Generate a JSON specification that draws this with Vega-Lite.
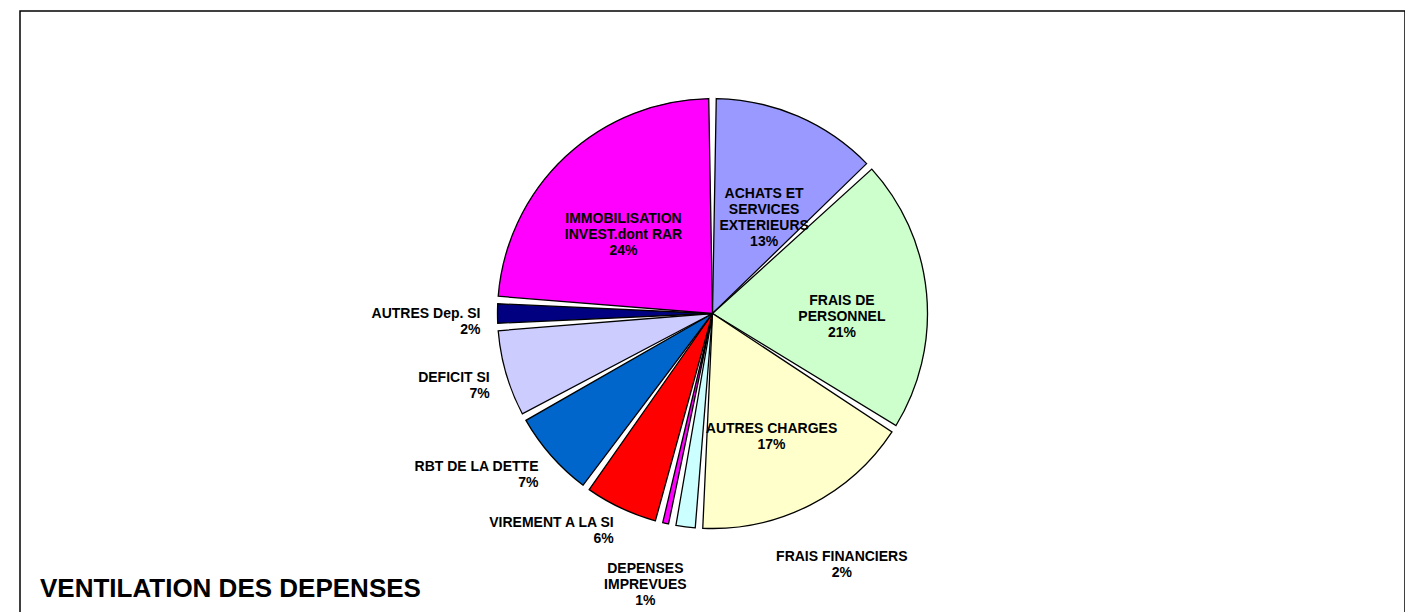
{
  "$schema": "https://vega.github.io/schema/vega-lite/v6.json",
  "width": 1385,
  "height": 605,
  "autosize": "none",
  "padding": {"left": 20, "top": 11, "right": 0, "bottom": 0},
  "background": "white",
  "view": {"stroke": "black", "strokeWidth": 1.5},
  "title": {
    "text": "VENTILATION DES DEPENSES",
    "orient": "bottom",
    "anchor": "start",
    "offset": -40,
    "dx": 20,
    "font": "Liberation Sans",
    "fontSize": 26,
    "fontWeight": "bold",
    "color": "black"
  },
  "data": {
    "values": [
      {"order": 1, "name": "ACHATS ET SERVICES EXTERIEURS", "value": 13, "label": "ACHATS ET\nSERVICES\nEXTERIEURS\n13%", "group": "in"},
      {"order": 2, "name": "FRAIS DE PERSONNEL", "value": 21, "label": "FRAIS DE\nPERSONNEL\n21%", "group": "in"},
      {"order": 3, "name": "AUTRES CHARGES", "value": 17, "label": "AUTRES CHARGES\n17%", "group": "in"},
      {"order": 4, "name": "FRAIS FINANCIERS", "value": 2, "label": "FRAIS FINANCIERS\n2%", "group": "ff"},
      {"order": 5, "name": "DEPENSES IMPREVUES", "value": 1, "label": "DEPENSES\nIMPREVUES\n1%", "group": "di"},
      {"order": 6, "name": "VIREMENT A LA SI", "value": 6, "label": "VIREMENT A LA SI\n6%", "group": "left"},
      {"order": 7, "name": "RBT DE LA DETTE", "value": 7, "label": "RBT DE LA DETTE\n7%", "group": "left"},
      {"order": 8, "name": "DEFICIT SI", "value": 7, "label": "DEFICIT SI\n7%", "group": "left"},
      {"order": 9, "name": "AUTRES Dep. SI", "value": 2, "label": "AUTRES Dep. SI\n2%", "group": "left"},
      {"order": 10, "name": "IMMOBILISATION INVEST.dont RAR", "value": 24, "label": "IMMOBILISATION\nINVEST.dont RAR\n24%", "group": "in"}
    ]
  },
  "encoding": {
    "theta": {"field": "value", "type": "quantitative", "stack": true},
    "order": {"field": "order", "type": "quantitative"}
  },
  "layer": [
    {
      "mark": {"type": "arc", "outerRadius": 215, "padAngle": 0.035, "stroke": "black", "strokeWidth": 1.3},
      "encoding": {
        "color": {
          "field": "name",
          "type": "nominal",
          "legend": null,
          "scale": {
            "domain": ["ACHATS ET SERVICES EXTERIEURS", "FRAIS DE PERSONNEL", "AUTRES CHARGES", "FRAIS FINANCIERS", "DEPENSES IMPREVUES", "VIREMENT A LA SI", "RBT DE LA DETTE", "DEFICIT SI", "AUTRES Dep. SI", "IMMOBILISATION INVEST.dont RAR"],
            "range": ["#9999FF", "#CCFFCC", "#FFFFCC", "#CCFFFF", "#FF00FF", "#FF0000", "#0066CC", "#CCCCFF", "#000080", "#FF00FF"]
          }
        }
      }
    },
    {
      "mark": {"type": "text", "radius": 130, "lineBreak": "\n", "font": "Liberation Sans", "fontSize": 14, "fontWeight": "bold", "align": "center", "baseline": "middle", "color": "black"},
      "encoding": {"text": {"condition": {"test": "datum.group == 'in'", "field": "label"}, "value": ""}}
    },
    {
      "mark": {"type": "text", "radius": 232, "lineBreak": "\n", "font": "Liberation Sans", "fontSize": 14, "fontWeight": "bold", "align": "right", "baseline": "middle", "color": "black"},
      "encoding": {"text": {"condition": {"test": "datum.group == 'left'", "field": "label"}, "value": ""}}
    },
    {
      "mark": {"type": "text", "radius": 245, "dx": 160, "lineBreak": "\n", "font": "Liberation Sans", "fontSize": 14, "fontWeight": "bold", "align": "center", "baseline": "middle", "color": "black"},
      "encoding": {"text": {"condition": {"test": "datum.group == 'ff'", "field": "label"}, "value": ""}}
    },
    {
      "mark": {"type": "text", "radius": 262, "dx": -10, "lineBreak": "\n", "font": "Liberation Sans", "fontSize": 14, "fontWeight": "bold", "align": "center", "baseline": "middle", "color": "black"},
      "encoding": {"text": {"condition": {"test": "datum.group == 'di'", "field": "label"}, "value": ""}}
    }
  ]
}
